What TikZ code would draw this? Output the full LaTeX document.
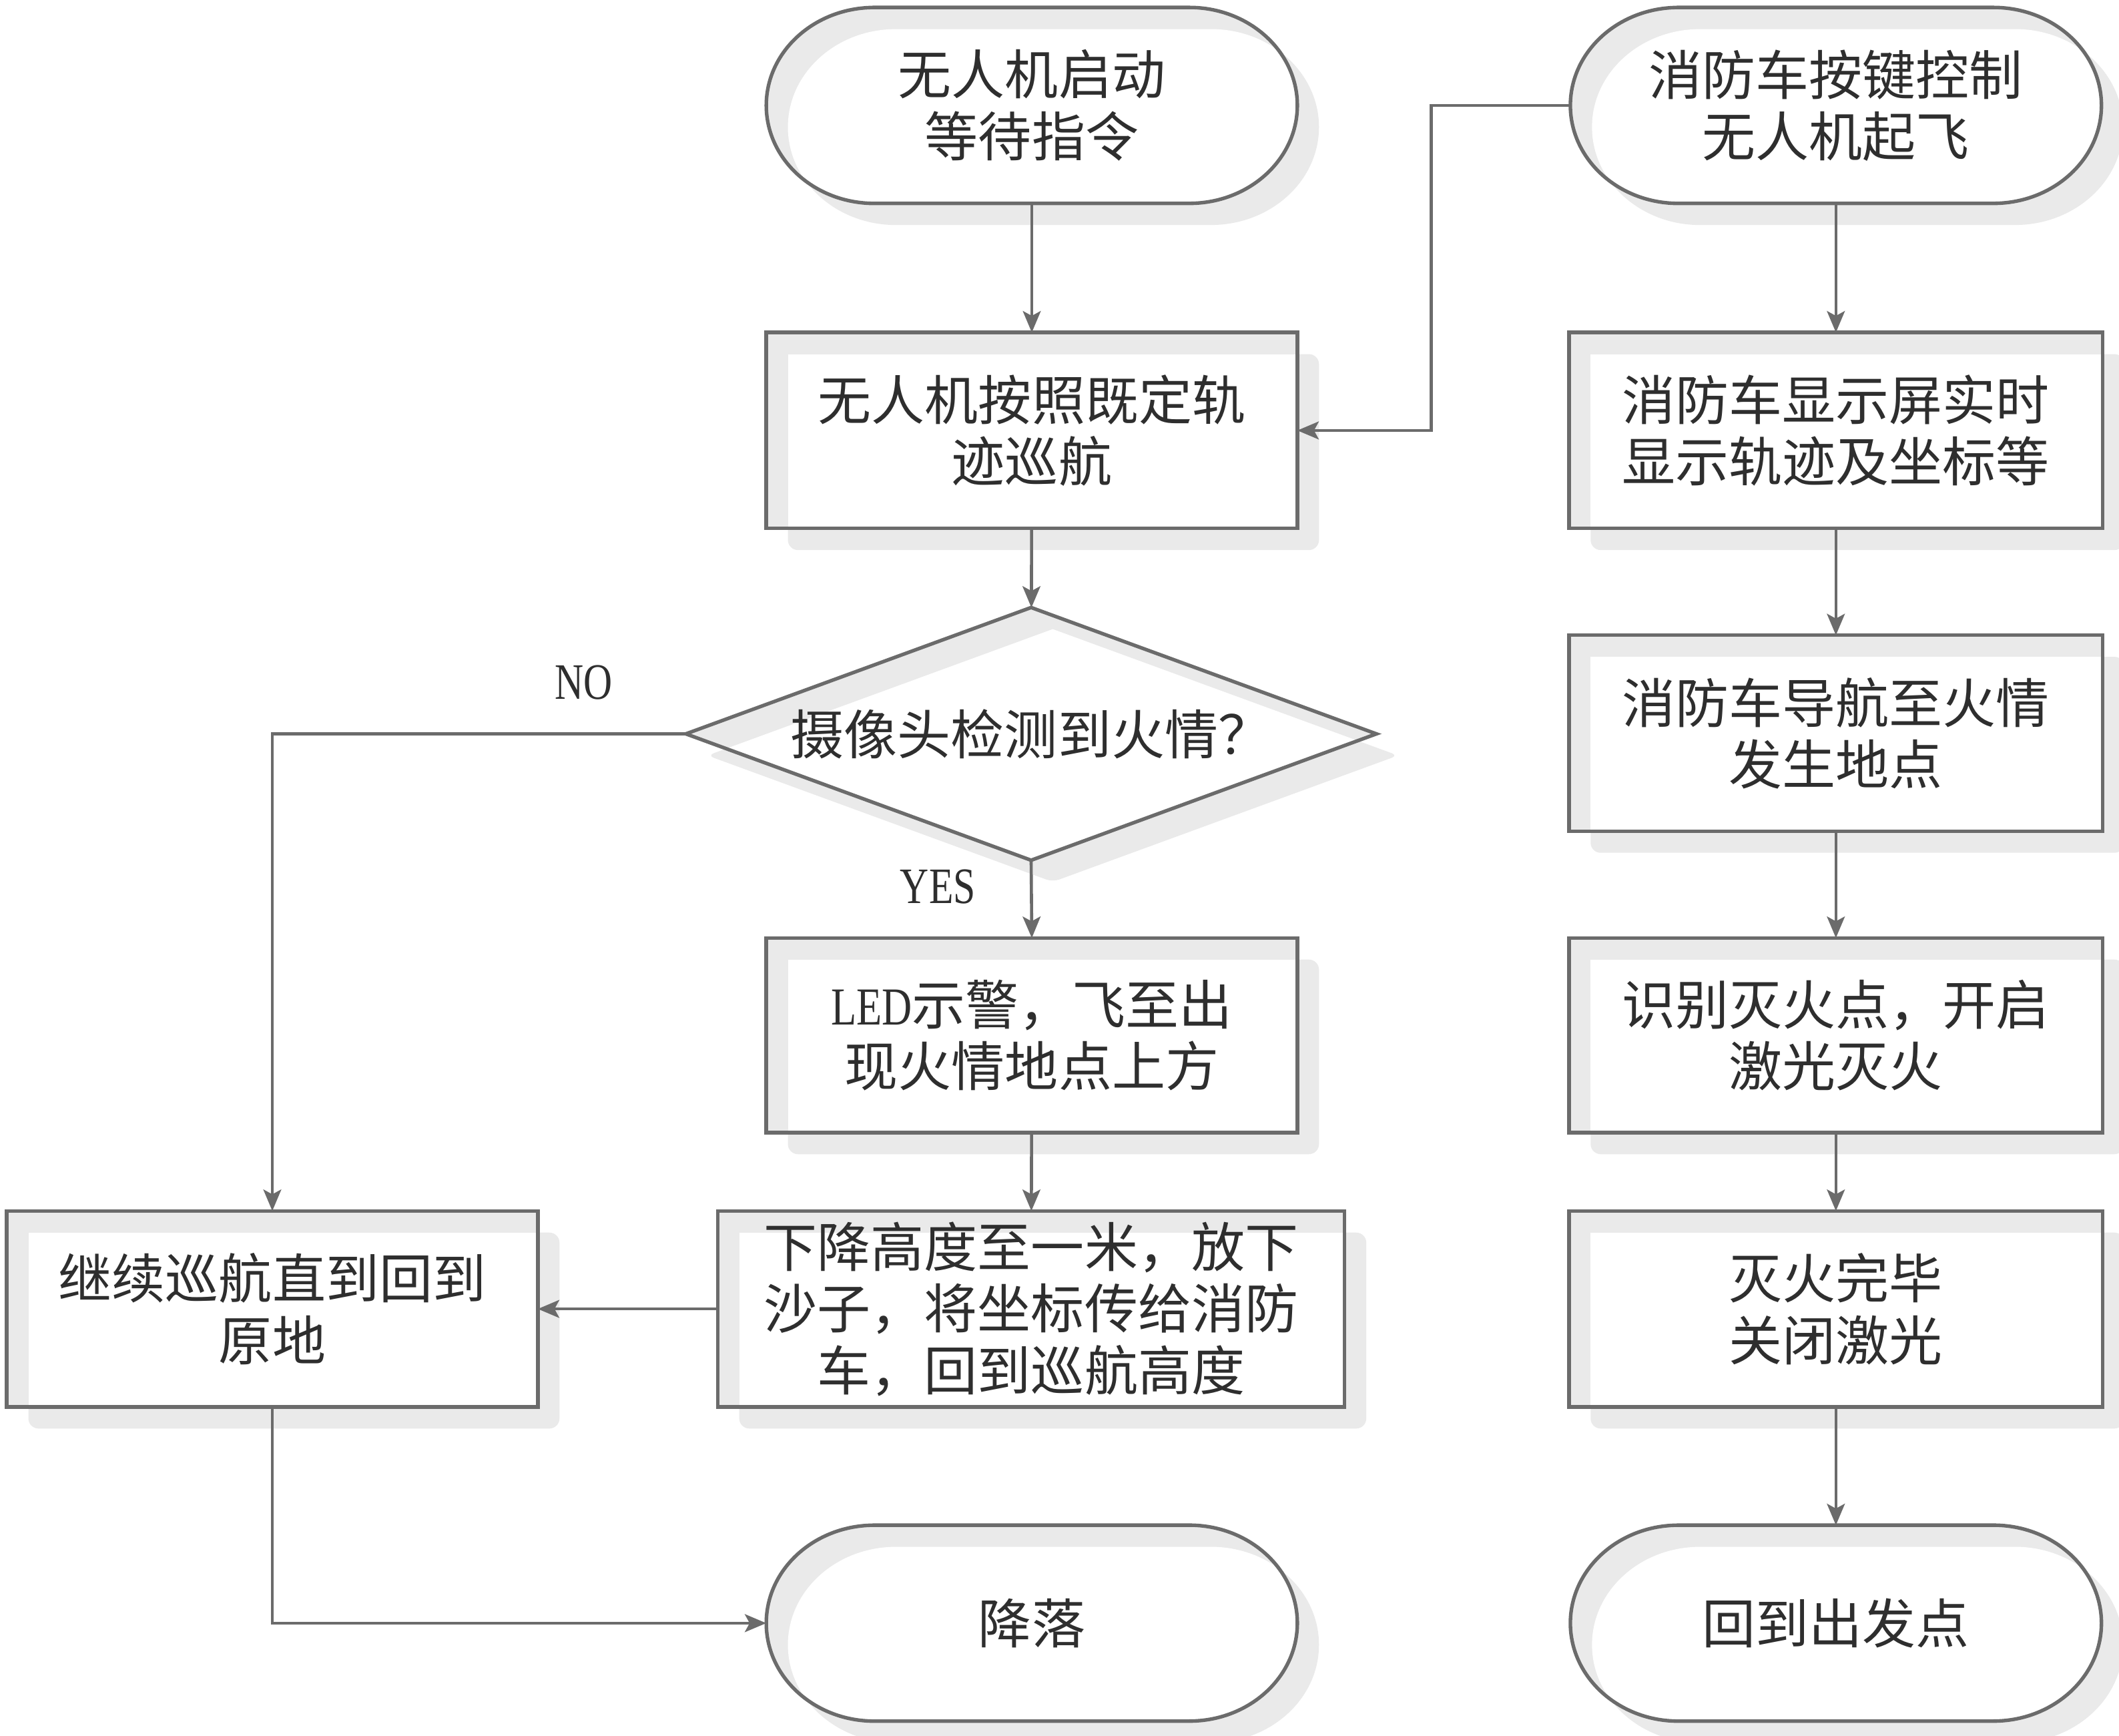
\documentclass[tikz,border=0pt]{standalone}
\usepackage{fontspec}
\setmainfont[FakeStretch=0.78]{Liberation Serif}
\newfontfamily\cjk{Noto Sans CJK SC}
\usetikzlibrary{arrows.meta,shapes.geometric}
\definecolor{ln}{HTML}{6B6B6B}
\definecolor{sh}{HTML}{EAEAEA}
\definecolor{tx}{HTML}{2E2E2E}

\tikzset{
  plain/.style={draw=ln, line width=1.5pt},
  conn/.style={draw=ln, line width=1.3pt, -{Stealth[length=9pt,width=7.5pt,inset=2pt]}},
  boxtext/.style={font=\cjk\fontsize{22.5}{26}\selectfont, text=tx, align=center, inner sep=0pt, outer sep=0pt},
  lbl/.style={font=\fontsize{21.5}{24}\selectfont, text=tx, inner sep=0pt}
}

% process box: name, cx, cy, w, h, text
\newcommand\procbox[6]{%
  \fill[sh,rounded corners=0.15cm] ({#2-#4/2+16},{#3-#5/2+16}) rectangle ({#2+#4/2+16},{#3+#5/2+16});
  \fill[sh] ({#2-#4/2},{#3-#5/2}) rectangle ({#2+#4/2},{#3+#5/2});
  \begin{scope}
    \clip ({#2-#4/2},{#3-#5/2}) rectangle ({#2+#4/2},{#3+#5/2});
    \fill[white] ({#2-#4/2+16},{#3-#5/2+16}) rectangle ({#2+#4/2+16},{#3+#5/2+16});
  \end{scope}
  \node[boxtext, draw=ln, line width=1.5pt, minimum width=#4*0.02cm, minimum height=#5*0.02cm] (#1) at (#2,#3) {#6};
}

% terminal outline centred at (cx,cy), width 393, height 145
\newcommand\termpath[2]{({#1-116.5},{#2-72.5}) -- ({#1+116.5},{#2-72.5}) arc[start angle=90,end angle=-90,x radius=1.6cm,y radius=1.45cm] -- ({#1-116.5},{#2+72.5}) arc[start angle=270,end angle=90,x radius=1.6cm,y radius=1.45cm] -- cycle}

% terminal: name, cx, cy, text
\newcommand\termbox[4]{%
  \fill[sh, shift={(16,16)}] \termpath{#2}{#3};
  \fill[sh] \termpath{#2}{#3};
  \begin{scope}
    \clip \termpath{#2}{#3};
    \fill[white, shift={(16,16)}] \termpath{#2}{#3};
  \end{scope}
  \draw[plain] \termpath{#2}{#3};
  \node[boxtext, minimum width=393*0.02cm, minimum height=145*0.02cm] (#1) at (#2,#3) {#4};
}

\begin{document}
\begin{tikzpicture}[x=0.02cm, y=-0.02cm]
\useasboundingbox[fill=white] (0,0) rectangle (1568,1284.5);

% left column
\termbox{t1}{763.5}{78}{无人机启动\\等待指令}
\procbox{p1}{763.5}{318.5}{393}{145}{无人机按照既定轨\\迹巡航}

% decision diamond
\fill[sh, shift={(16,16)}, rounded corners=0.1cm] (763,449.5) -- (1018.5,543) -- (763,636.5) -- (507.5,543) -- cycle;
\fill[sh] (763,449.5) -- (1018.5,543) -- (763,636.5) -- (507.5,543) -- cycle;
\begin{scope}
  \clip (763,449.5) -- (1018.5,543) -- (763,636.5) -- (507.5,543) -- cycle;
  \fill[white, shift={(16,16)}] (763,449.5) -- (1018.5,543) -- (763,636.5) -- (507.5,543) -- cycle;
\end{scope}
\draw[plain] (763,449.5) -- (1018.5,543) -- (763,636.5) -- (507.5,543) -- cycle;
\node[boxtext, diamond, aspect=2.733, minimum width=511*0.02cm, minimum height=187*0.02cm] (d1) at (763,543) {摄像头检测到火情？};

\procbox{p2}{763.5}{766}{393}{144}{{\rmfamily LED}示警，飞至出\\现火情地点上方}
\procbox{p3}{763}{968.5}{464}{145}{下降高度至一米，放下\\沙子，将坐标传给消防\\车，回到巡航高度}
\procbox{p5}{201.5}{968.5}{393}{145}{继续巡航直到回到\\原地}
\termbox{t3}{763.5}{1201}{降落}

% right column
\termbox{t2}{1358.5}{78}{消防车按键控制\\无人机起飞}
\procbox{q1}{1358.5}{318.5}{395}{145}{消防车显示屏实时\\显示轨迹及坐标等}
\procbox{q2}{1358.5}{542.5}{395}{145}{消防车导航至火情\\发生地点}
\procbox{q3}{1358.5}{766}{395}{144}{识别灭火点，开启\\激光灭火}
\procbox{q4}{1358.5}{968.5}{395}{145}{灭火完毕\\关闭激光}
\termbox{t4}{1358.5}{1201}{回到出发点}

% labels
\node[lbl] (no) at (432,505) {NO};
\node[lbl] (yes) at (694,656) {YES};

% connectors
\coordinate (k1) at (1059,78);
\draw[conn] (t1) -- (p1);
\draw[conn] (t2.west) -- (k1) |- (p1.east);
\draw[conn] (p1) -- (d1);
\draw[conn] (d1.south) -- (p2.north);
\draw[conn] (d1.west) -| (p5.north);
\draw[conn] (p2) -- (p3);
\draw[conn] (p3.west) -- (p5.east);
\draw[conn] (p5.south) |- (t3.west);
\draw[conn] (t2) -- (q1);
\draw[conn] (q1) -- (q2);
\draw[conn] (q2) -- (q3);
\draw[conn] (q3) -- (q4);
\draw[conn] (q4) -- (t4);
\end{tikzpicture}
\end{document}
